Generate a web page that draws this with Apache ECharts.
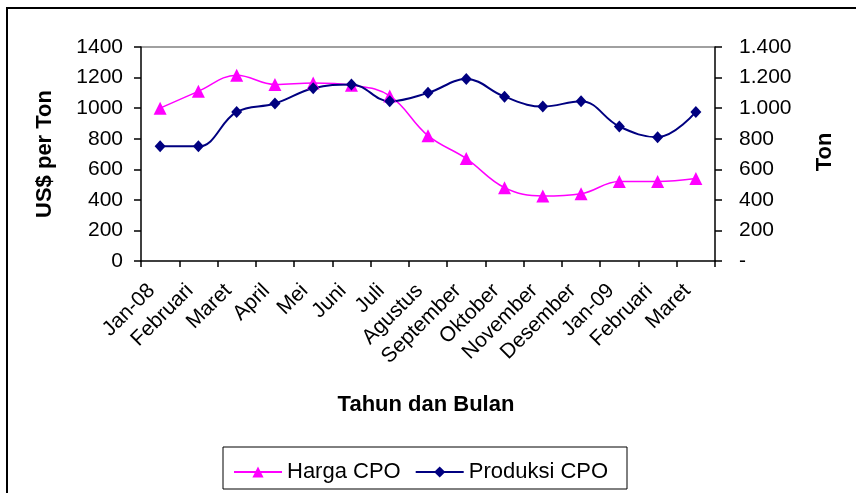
<!DOCTYPE html>
<html>
<head>
<meta charset="utf-8">
<title>Harga dan Produksi CPO</title>
<script src="https://cdn.jsdelivr.net/npm/echarts@6/dist/echarts.min.js"></script>
<style>
  html, body { margin: 0; padding: 0; background: #ffffff; }
  #chart { width: 856px; height: 493px; }
</style>
</head>
<body>
<div id="chart"></div>
<script>
// bulan (sumbu x)
const months = ["Jan-08", "Februari", "Maret", "April", "Mei", "Juni", "Juli", "Agustus",
  "September", "Oktober", "November", "Desember", "Jan-09", "Februari", "Maret"];
// harga CPO, US$ per ton
const hargaCPO = [1000, 1110, 1215, 1155, 1165, 1150, 1080, 820, 670, 480, 425, 440, 520, 520, 540];
// produksi CPO, ton
const produksiCPO = [750, 750, 975, 1030, 1130, 1155, 1045, 1100, 1190, 1075, 1010, 1045, 880, 810, 975];
const leftTicks = [0, 1400, 200];   // min, max, interval
const rightTicks = [0, 1400, 200];

const font = "Liberation Sans, Arial, sans-serif";

// titik ribuan: 1200 -> 1.200, 0 -> -
function fmtTon(v) {
  if (v === 0) return "-";
  return String(v).replace(/\B(?=(\d{3})+(?!\d))/g, ".");
}

const chart = echarts.init(document.getElementById("chart"));

const option = {
  backgroundColor: "#ffffff",
  animation: false,
  grid: { left: 141, right: 141, top: 47, bottom: 232 },
  legend: {
    left: 228,
    top: 456,
    itemWidth: 48,
    itemHeight: 14,
    itemGap: 14,
    textStyle: { fontFamily: font, fontSize: 22, color: "#000" },
    data: ["Harga CPO", "Produksi CPO"],
  },
  xAxis: {
    type: "category",
    data: months,
    boundaryGap: true,
    axisLine: { lineStyle: { color: "#000", width: 1.5 } },
    axisTick: { show: true, length: 6, lineStyle: { color: "#000", width: 1.5 } },
    axisLabel: {
      interval: 0,
      rotate: 45,
      margin: 18,
      padding: [0, 12, 0, 0],
      fontFamily: font,
      fontSize: 21,
      color: "#000",
    },
  },
  yAxis: [
    {
      type: "value",
      min: leftTicks[0],
      max: leftTicks[1],
      interval: leftTicks[2],
      position: "left",
      axisLine: { show: true, lineStyle: { color: "#000", width: 1.5 } },
      axisTick: { show: true, length: 7, lineStyle: { color: "#000", width: 1.5 } },
      axisLabel: { margin: 18, fontFamily: font, fontSize: 21, color: "#000",
        formatter: (v) => String(v) },
      splitLine: {
        show: true,
        // hanya garis paling atas (1400) yang terlihat
        lineStyle: {
          color: ["transparent", "transparent", "transparent", "transparent",
            "transparent", "transparent", "transparent", "#808080"],
          width: 1.5,
        },
      },
    },
    {
      type: "value",
      min: rightTicks[0],
      max: rightTicks[1],
      interval: rightTicks[2],
      position: "right",
      axisLine: { show: true, lineStyle: { color: "#000", width: 1.5 } },
      axisTick: { show: true, length: 7, lineStyle: { color: "#000", width: 1.5 } },
      axisLabel: { margin: 24, fontFamily: font, fontSize: 21, color: "#000", formatter: fmtTon },
      splitLine: { show: false },
    },
  ],
  series: [
    {
      name: "Harga CPO",
      type: "line",
      yAxisIndex: 0,
      data: hargaCPO,
      smooth: 0.4,
      symbol: "triangle",
      symbolSize: 13,
      lineStyle: { color: "#ff00ff", width: 1.5 },
      itemStyle: { color: "#ff00ff" },
    },
    {
      name: "Produksi CPO",
      type: "line",
      yAxisIndex: 1,
      data: produksiCPO,
      smooth: 0.4,
      symbol: "diamond",
      symbolSize: [11, 12],
      lineStyle: { color: "#000080", width: 2 },
      itemStyle: { color: "#000080" },
    },
  ],
  graphic: [
    {
      type: "rect",
      shape: { x: 7, y: 8, width: 900, height: 600 },
      style: { fill: null, stroke: "#000", lineWidth: 2 },
      silent: true,
    },
    {
      type: "rect",
      shape: { x: 223, y: 447, width: 404, height: 42 },
      style: { fill: null, stroke: "#000", lineWidth: 1 },
      silent: true,
    },
    {
      type: "text",
      x: 45, y: 154,
      rotation: Math.PI / 2,
      style: { text: "US$ per Ton", fontFamily: font, fontSize: 22, fontWeight: "bold",
        fill: "#000", textAlign: "center", textVerticalAlign: "middle" },
    },
    {
      type: "text",
      x: 825, y: 152,
      rotation: Math.PI / 2,
      style: { text: "Ton", fontFamily: font, fontSize: 22, fontWeight: "bold",
        fill: "#000", textAlign: "center", textVerticalAlign: "middle" },
    },
    {
      type: "text",
      x: 426, y: 405,
      style: { text: "Tahun dan Bulan", fontFamily: font, fontSize: 22, fontWeight: "bold",
        fill: "#000", textAlign: "center", textVerticalAlign: "middle" },
    },
  ],
};

chart.setOption(option);
</script>
</body>
</html>
